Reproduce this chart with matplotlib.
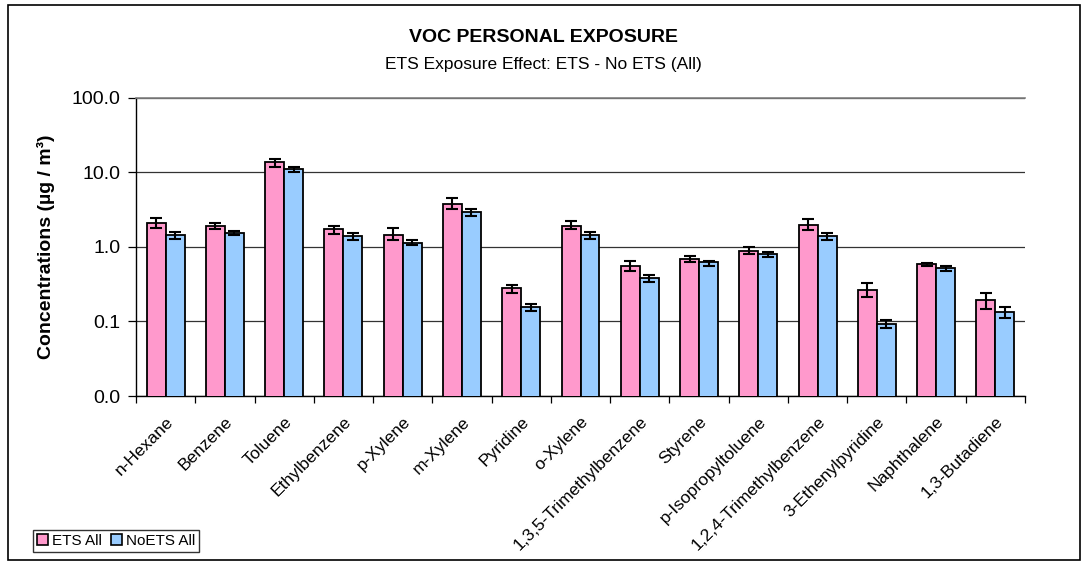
import numpy as np
import matplotlib
matplotlib.use('Agg')
import matplotlib.pyplot as plt
from matplotlib.patches import Rectangle, Patch
from matplotlib.ticker import FixedLocator, FixedFormatter, NullLocator

plt.rcParams['font.family'] = ['Liberation Sans', 'DejaVu Sans']

# ── data ──────────────────────────────────────────────────────────────────
compounds = ["n-Hexane", "Benzene", "Toluene", "Ethylbenzene", "p-Xylene",
             "m-Xylene", "Pyridine", "o-Xylene", "1,3,5-Trimethylbenzene",
             "Styrene", "p-Isopropyltoluene", "1,2,4-Trimethylbenzene",
             "3-Ethenylpyridine", "Naphthalene", "1,3-Butadiene"]

ets_all = [2.12, 1.89, 13.6, 1.71, 1.46, 3.81, 0.279, 1.91, 0.556,
           0.684, 0.893, 1.99, 0.265, 0.59, 0.193]
ets_hi = [2.47, 2.12, 15.3, 1.91, 1.81, 4.50, 0.31, 2.23, 0.65,
          0.765, 1.00, 2.35, 0.33, 0.61, 0.237]
ets_lo = [1.81, 1.71, 11.8, 1.48, 1.25, 3.23, 0.237, 1.71, 0.47,
          0.623, 0.81, 1.69, 0.21, 0.55, 0.146]

noets_all = [1.46, 1.54, 11.1, 1.39, 1.12, 2.92, 0.155, 1.45, 0.384,
             0.623, 0.81, 1.39, 0.092, 0.528, 0.132]
noets_hi = [1.60, 1.62, 11.7, 1.53, 1.23, 3.23, 0.172, 1.60, 0.425,
            0.65, 0.85, 1.53, 0.106, 0.55, 0.154]
noets_lo = [1.29, 1.46, 10.0, 1.25, 1.06, 2.63, 0.14, 1.28, 0.343,
            0.56, 0.73, 1.23, 0.082, 0.48, 0.112]

ytick_vals = [0.01, 0.1, 1, 10, 100]
ytick_labels = ["0.0", "0.1", "1.0", "10.0", "100.0"]

PINK = "#FF99CC"
BLUE = "#99CCFF"

fig = plt.figure(figsize=(10.87, 5.65), dpi=100)
fig.patch.set_facecolor("white")

# outer chart border
fig.add_artist(Rectangle((8 / 1087, 5 / 565), 1072 / 1087, 555 / 565,
                         transform=fig.transFigure, fill=False,
                         edgecolor="black", linewidth=1.2))

ax = fig.add_axes([136 / 1087, 1 - 396 / 565, 889 / 1087, 298.3 / 565])

x = np.arange(len(compounds))
bw = 0.32
ets_err = [np.array(ets_all) - np.array(ets_lo), np.array(ets_hi) - np.array(ets_all)]
noets_err = [np.array(noets_all) - np.array(noets_lo), np.array(noets_hi) - np.array(noets_all)]

ax.bar(x - bw / 2, ets_all, bw, color=PINK, edgecolor="black", linewidth=1.3,
       zorder=3, label="ETS All")
ax.bar(x + bw / 2, noets_all, bw, color=BLUE, edgecolor="black", linewidth=1.3,
       zorder=3, label="NoETS All")
ax.errorbar(x - bw / 2, ets_all, yerr=ets_err, fmt="none", ecolor="black",
            elinewidth=1.5, capsize=4.2, capthick=1.5, zorder=4)
ax.errorbar(x + bw / 2, noets_all, yerr=noets_err, fmt="none", ecolor="black",
            elinewidth=1.5, capsize=4.2, capthick=1.5, zorder=4)

ax.set_yscale("log")
ax.set_ylim(0.01, 100)
ax.set_xlim(-0.5, len(compounds) - 0.5)
ax.yaxis.set_major_locator(FixedLocator(ytick_vals))
ax.yaxis.set_major_formatter(FixedFormatter(ytick_labels))
ax.yaxis.set_minor_locator(NullLocator())
ax.grid(axis="y", color="#333333", linewidth=0.9, zorder=0)
ax.tick_params(axis="y", labelsize=14, length=6, width=0.9, direction="out",
               pad=5)

# category labels at centres, tick marks between categories
ax.set_xticks(x)
ax.set_xticklabels(compounds, rotation=45, ha="right", rotation_mode="anchor",
                   fontsize=12.5)
ax.tick_params(axis="x", which="major", length=0, pad=13)
ax.set_xticks(np.arange(len(compounds) + 1) - 0.5, minor=True)
ax.tick_params(axis="x", which="minor", length=5, width=0.9, direction="out")

ax.spines["right"].set_visible(False)
ax.spines["top"].set_color("#808080")
ax.spines["top"].set_linewidth(1.2)
ax.spines["left"].set_linewidth(1.0)
ax.spines["bottom"].set_linewidth(1.0)

ax.set_ylabel("Concentrations (µg / m³)", fontsize=14, fontweight="bold",
              labelpad=12)

fig.text(0.5, 1 - 37 / 565, "VOC PERSONAL EXPOSURE", ha="center", va="center",
         fontsize=14, fontweight="bold")
fig.text(0.5, 1 - 64 / 565, "ETS Exposure Effect: ETS - No ETS (All)",
         ha="center", va="center", fontsize=12.5)

handles = [Patch(facecolor=PINK, edgecolor="black", linewidth=1.2, label="ETS All"),
           Patch(facecolor=BLUE, edgecolor="black", linewidth=1.2, label="NoETS All")]
fig.legend(handles=handles, loc="lower left",
           bbox_to_anchor=(33 / 1087, 13 / 565), ncol=2, frameon=True,
           fancybox=False, edgecolor="black", fontsize=11,
           handlelength=0.7, handleheight=0.7, handletextpad=0.3,
           columnspacing=0.6, borderpad=0.25, borderaxespad=0)

fig.savefig("out.png", dpi=100, facecolor="white")
